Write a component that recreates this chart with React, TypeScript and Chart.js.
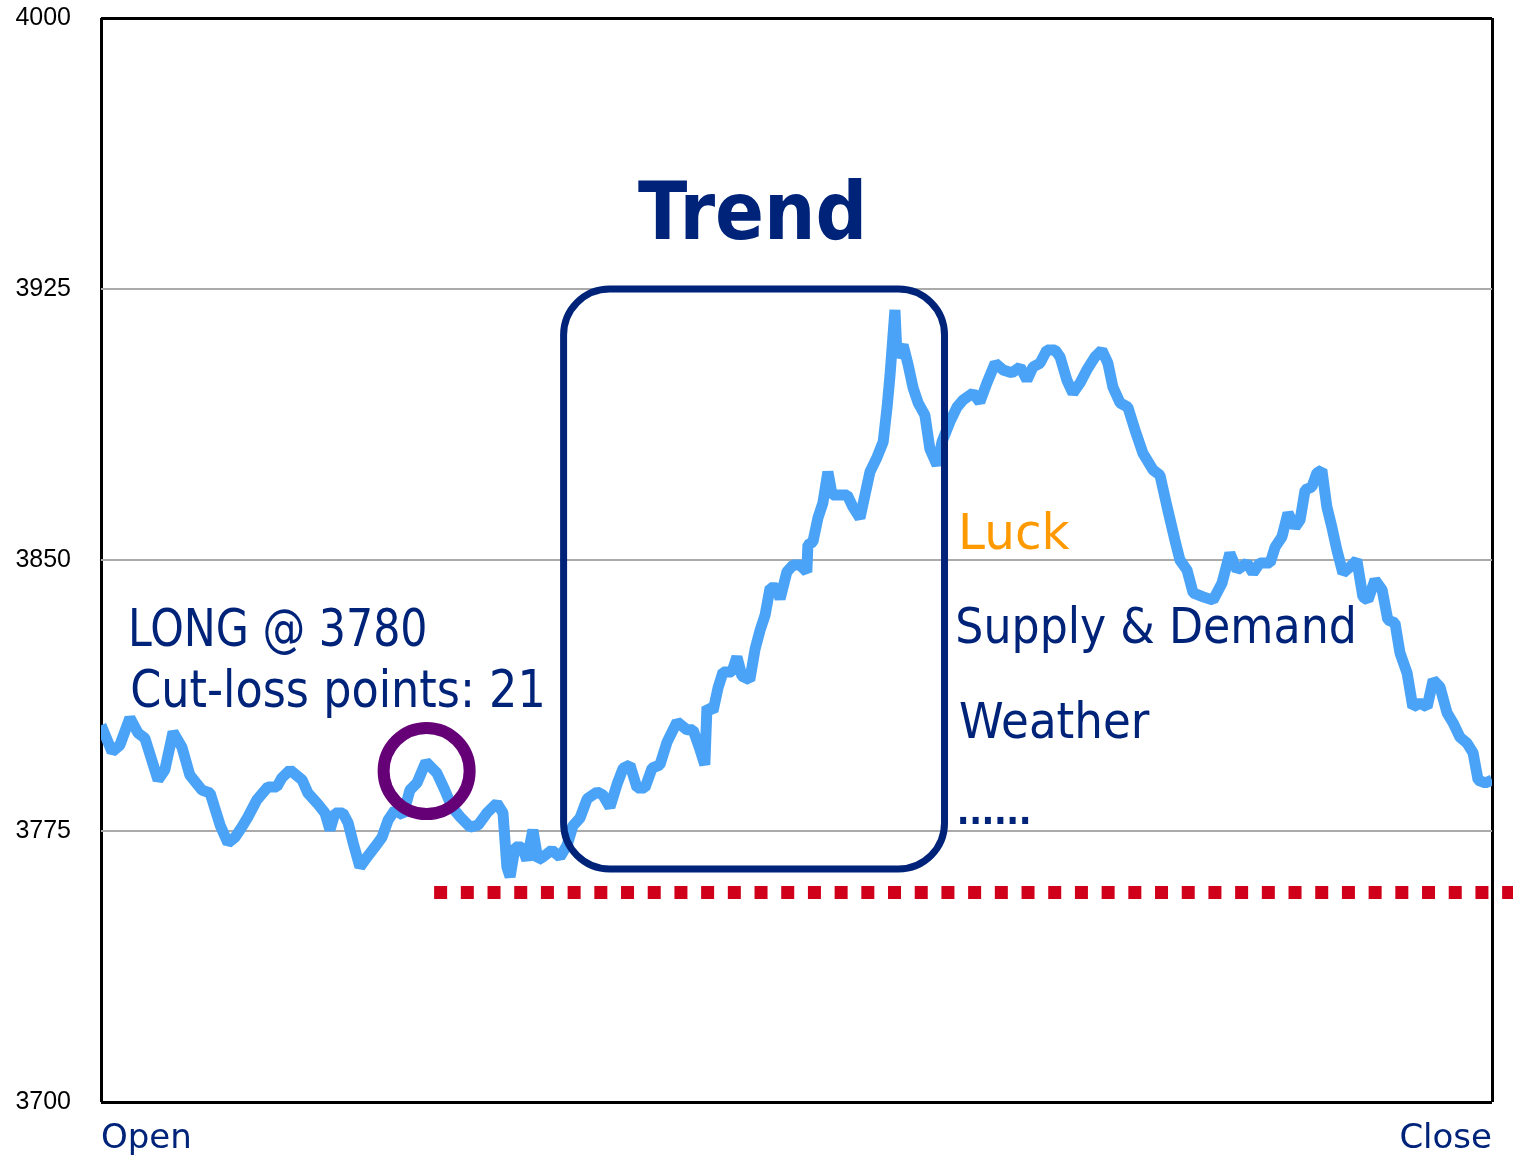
import React, { useEffect, useRef } from 'react';
import { Chart, registerables } from 'chart.js';

Chart.register(...registerables);

// ---- data (minutes after the open, index price) ----
const minutes = [
  0, 3.1, 5.3, 8.1, 10.4, 12.3, 16.0, 17.9, 20.2, 22.7, 24.9, 28.3, 30.6, 33.4, 35.6, 37.6, 39.5, 41.2, 43.7, 46.8,
  49.3, 50.7, 53.0, 56.4, 58.0, 60.6, 62.8, 64.2, 65.6, 67.8, 69.3, 70.7, 72.6, 74.6, 76.8, 78.8, 80.5, 82.4, 84.7, 86.6,
  88.6, 91.1, 94.2, 96.4, 98.4, 100.7, 103.5, 105.7, 108.2, 111.0, 112.7, 113.8, 114.7, 116.1, 118.0, 119.4, 121.1, 122.5, 123.9, 126.4,
  128.7, 130.7, 132.3, 134.3, 136.3, 139.1, 140.7, 142.7, 144.7, 146.4, 148.3, 150.3, 152.5, 154.5, 156.7, 158.7, 161.5, 164.3, 166.0, 167.9,
  169.3, 169.9, 171.6, 173.0, 174.4, 176.9, 178.3, 179.7, 181.9, 183.4, 184.8, 186.2, 187.6, 189.5, 190.4, 192.3, 194.0, 196.0, 197.9, 198.2,
  199.6, 201.0, 202.4, 203.8, 205.0, 207.2, 209.2, 210.8, 212.8, 214.2, 215.6, 217.6, 219.3, 220.4, 221.2, 222.6, 223.2, 224.9, 226.3, 227.7,
  229.1, 231.0, 232.4, 234.4, 235.8, 238.0, 240.0, 241.7, 244.5, 246.4, 248.4, 250.7, 252.9, 255.4, 257.7, 259.6, 261.3, 263.3, 265.2, 267.5,
  268.9, 270.8, 272.5, 274.5, 276.4, 278.7, 280.6, 282.3, 283.7, 285.7, 287.9, 289.9, 292.1, 295.0, 296.9, 298.9, 301.1, 302.5, 304.5, 306.2,
  309.0, 311.8, 314.3, 316.5, 318.5, 321.3, 323.0, 324.9, 327.8, 329.2, 331.1, 332.8, 334.8, 336.2, 337.6, 339.5, 340.9, 342.3, 343.7, 345.1,
  346.5, 348.2, 350.2, 352.1, 353.8, 355.2, 357.2, 359.2, 360.8, 362.8, 364.2, 366.2, 367.8, 369.8, 371.8, 373.5, 375.4, 377.4, 379.1, 381.0,
  383.0, 384.7, 386.1, 388.1, 390.0,
];

const prices = [
  3804.3, 3796.9, 3798.8, 3806.3, 3802.1, 3800.7, 3789.1, 3791.9, 3802.4, 3798.2, 3790.5, 3786.3, 3785.5, 3776.6, 3771.7, 3773.3, 3776.1, 3778.9, 3783.6, 3787.2,
  3787.2, 3789.7, 3791.9, 3789.1, 3785.5, 3782.7, 3780.0, 3775.3, 3780.0, 3780.0, 3777.2, 3771.7, 3765.0, 3767.8, 3770.6, 3773.3, 3778.0, 3780.8, 3779.4, 3786.3,
  3788.3, 3794.1, 3791.0, 3786.3, 3781.6, 3778.9, 3776.1, 3776.6, 3780.0, 3782.7, 3780.0, 3765.0, 3762.3, 3770.6, 3770.6, 3767.0, 3775.3, 3767.0, 3767.8, 3769.7,
  3767.8, 3771.1, 3776.4, 3778.6, 3783.9, 3785.8, 3785.0, 3781.6, 3788.0, 3792.4, 3793.3, 3786.9, 3786.9, 3792.4, 3793.3, 3799.6, 3805.2, 3803.0, 3803.0, 3797.7,
  3793.3, 3809.3, 3808.2, 3814.6, 3819.0, 3819.0, 3823.2, 3817.9, 3816.8, 3825.4, 3830.6, 3834.8, 3842.3, 3842.3, 3839.2, 3846.7, 3848.6, 3848.6, 3846.7, 3854.2,
  3855.0, 3861.6, 3865.8, 3874.4, 3868.0, 3868.0, 3868.0, 3864.7, 3861.6, 3868.0, 3874.4, 3878.5, 3882.7, 3892.3, 3900.9, 3919.2, 3906.2, 3909.5, 3904.0, 3897.6,
  3893.5, 3890.1, 3880.7, 3876.3, 3882.7, 3888.2, 3892.3, 3894.3, 3896.2, 3893.7, 3899.0, 3904.5, 3902.6, 3901.8, 3903.4, 3899.8, 3903.4, 3904.5, 3908.1, 3908.1,
  3906.2, 3899.8, 3896.2, 3899.0, 3902.6, 3906.2, 3908.1, 3904.5, 3897.9, 3893.5, 3892.3, 3886.0, 3879.6, 3874.9, 3873.5, 3864.7, 3855.5, 3850.0, 3847.2, 3840.9,
  3839.8, 3838.9, 3843.6, 3851.9, 3847.2, 3849.2, 3846.4, 3849.2, 3849.2, 3853.6, 3856.4, 3863.0, 3859.1, 3861.1, 3869.4, 3870.2, 3874.1, 3874.9, 3864.7, 3859.1,
  3852.8, 3846.4, 3848.1, 3850.0, 3839.8, 3838.9, 3844.5, 3841.7, 3833.4, 3832.6, 3824.3, 3818.7, 3809.3, 3810.4, 3809.3, 3816.8, 3814.9, 3807.7, 3804.9, 3801.0,
  3799.3, 3796.6, 3789.1, 3788.3, 3789.1,
];

const yTickValues = [3700, 3775, 3850, 3925, 4000];
const xTickLabels = ['Open', 'Close'];
const sessionMinutes = [0, 390];

// annotation values
const trendTitle = 'Trend';
const trendWindow = [129.7, 236.5]; // minutes
const trendRange = [3764.5, 3925]; // price
const entryMarker = [91.3, 3791.6]; // minute, price
const stopLevel = 3758;
const stopFromMinute = 93.4;
const positionNotes = ['LONG @ 3780', 'Cut-loss points: 21'];
const factorNotes = ['Luck', 'Supply & Demand', 'Weather', '......'];

// ---- styles ----
const NAVY = '#00237a';
const ORANGE = '#ff9900';
const PURPLE = '#660077';
const RED = '#d0001a';
const BLUE = '#4aa3f7';
const FONT = '"DejaVu Sans", Verdana, sans-serif';

// text layout (left, right, baseline, cap height in pixels)
const textLayout = [
  { text: trendTitle, l: 638, r: 862, b: 239, cap: 58, weight: 'bold', color: NAVY },
  { text: positionNotes[0], l: 132, r: 425, b: 646, cap: 38, weight: 'normal', color: NAVY },
  { text: positionNotes[1], l: 132, r: 542, b: 707, cap: 37, weight: 'normal', color: NAVY },
  { text: factorNotes[0], l: 962, r: 1070, b: 549, cap: 36, weight: 'normal', color: ORANGE },
  { text: factorNotes[1], l: 958, r: 1353, b: 643, cap: 36, weight: 'normal', color: NAVY },
  { text: factorNotes[2], l: 960, r: 1150, b: 738, cap: 36, weight: 'normal', color: NAVY },
  { text: factorNotes[3], l: 960, r: 1029, b: 824, dot: 7.5, weight: 'normal', color: NAVY },
];

function drawFitted(ctx: CanvasRenderingContext2D, t: any) {
  ctx.textAlign = 'left';
  ctx.textBaseline = 'alphabetic';
  ctx.font = `${t.weight} 100px ${FONT}`;
  let size: number;
  if (t.dot) {
    const md = ctx.measureText('.');
    const dh = (md.actualBoundingBoxAscent + md.actualBoundingBoxDescent) || 13;
    size = (100 * t.dot) / dh;
  } else {
    const capRef = ctx.measureText('H').actualBoundingBoxAscent || 72.9;
    size = (100 * t.cap) / capRef;
  }
  ctx.font = `${t.weight} ${size}px ${FONT}`;
  const m = ctx.measureText(t.text);
  const inkL = -m.actualBoundingBoxLeft;
  const inkR = m.actualBoundingBoxRight;
  const w0 = Math.max(1, inkR - inkL);
  ctx.save();
  ctx.fillStyle = t.color;
  const anyCtx = ctx as any;
  if (t.dot && 'letterSpacing' in anyCtx && t.text.length > 1) {
    const ls = (t.r - t.l - w0) / (t.text.length - 1);
    anyCtx.letterSpacing = `${ls}px`;
    ctx.fillText(t.text, t.l - inkL, t.b);
    anyCtx.letterSpacing = '0px';
  } else {
    const sx = (t.r - t.l) / w0;
    ctx.translate(t.l, t.b);
    ctx.scale(sx, 1);
    ctx.fillText(t.text, -inkL, 0);
  }
  ctx.restore();
}

function roundRectPath(ctx: CanvasRenderingContext2D, x: number, y: number, w: number, h: number, r: number) {
  ctx.beginPath();
  ctx.moveTo(x + r, y);
  ctx.lineTo(x + w - r, y);
  ctx.arcTo(x + w, y, x + w, y + r, r);
  ctx.lineTo(x + w, y + h - r);
  ctx.arcTo(x + w, y + h, x + w - r, y + h, r);
  ctx.lineTo(x + r, y + h);
  ctx.arcTo(x, y + h, x, y + h - r, r);
  ctx.lineTo(x, y + r);
  ctx.arcTo(x, y, x + r, y, r);
  ctx.closePath();
}

const annotationPlugin = {
  id: 'tradeAnnotations',
  afterDatasetsDraw(chart: any) {
    const { ctx, scales } = chart;
    const x = scales.x;
    const y = scales.y;
    ctx.save();

    // stop-loss dotted line
    const sy = y.getPixelForValue(stopLevel);
    ctx.beginPath();
    ctx.setLineDash([13, 13.7]);
    ctx.lineCap = 'butt';
    ctx.lineWidth = 13;
    ctx.strokeStyle = RED;
    ctx.moveTo(x.getPixelForValue(stopFromMinute), sy);
    ctx.lineTo(chart.width, sy);
    ctx.stroke();
    ctx.setLineDash([]);

    // trend box
    const bx0 = x.getPixelForValue(trendWindow[0]);
    const bx1 = x.getPixelForValue(trendWindow[1]);
    const by0 = y.getPixelForValue(trendRange[1]);
    const by1 = y.getPixelForValue(trendRange[0]);
    roundRectPath(ctx, bx0, by0, bx1 - bx0, by1 - by0, 46);
    ctx.lineWidth = 7;
    ctx.strokeStyle = NAVY;
    ctx.stroke();

    // entry marker circle
    ctx.beginPath();
    ctx.arc(x.getPixelForValue(entryMarker[0]), y.getPixelForValue(entryMarker[1]), 43, 0, Math.PI * 2);
    ctx.lineWidth = 12;
    ctx.strokeStyle = PURPLE;
    ctx.stroke();

    // texts
    textLayout.forEach((t) => drawFitted(ctx, t));
    ctx.restore();
  },
};

export default function App() {
  const canvasRef = useRef<HTMLCanvasElement>(null);

  useEffect(() => {
    document.body.style.margin = '0';
    const canvas = canvasRef.current;
    if (!canvas) return;
    const points = minutes.map((m, i) => ({ x: m, y: prices[i] }));
    const chart = new Chart(canvas, {
      type: 'line',
      data: {
        datasets: [
          {
            data: points,
            borderColor: BLUE,
            borderWidth: 11,
            borderJoinStyle: 'bevel',
            pointRadius: 0,
            tension: 0,
            fill: false,
          },
        ],
      },
      options: {
        animation: false,
        responsive: false,
        devicePixelRatio: 1,
        events: [],
        layout: { padding: { top: 18, right: 21, bottom: 0, left: 0 } },
        plugins: { legend: { display: false }, tooltip: { enabled: false } },
        scales: {
          x: {
            type: 'linear',
            min: sessionMinutes[0],
            max: sessionMinutes[1],
            afterBuildTicks: (scale: any) => {
              scale.ticks = sessionMinutes.map((v) => ({ value: v }));
            },
            afterFit: (scale: any) => {
              scale.height = 57;
              scale.paddingLeft = 0;
              scale.paddingRight = 0;
            },
            border: { display: false },
            grid: { color: '#000', lineWidth: 3, drawTicks: false },
            ticks: {
              autoSkip: false,
              maxRotation: 0,
              align: 'inner',
              padding: 17,
              color: NAVY,
              font: { family: FONT, size: 34 },
              callback: (v: any) => (v === sessionMinutes[0] ? xTickLabels[0] : xTickLabels[1]),
            },
          },
          y: {
            type: 'linear',
            min: yTickValues[0],
            max: yTickValues[yTickValues.length - 1],
            afterBuildTicks: (scale: any) => {
              scale.ticks = yTickValues.map((v) => ({ value: v }));
            },
            afterFit: (scale: any) => {
              scale.width = 101;
              scale.paddingTop = 0;
              scale.paddingBottom = 0;
            },
            border: { display: false },
            grid: {
              drawTicks: false,
              color: (c: any) => (c.tick && (c.tick.value === 3700 || c.tick.value === 4000) ? '#000' : '#aaaaaa'),
              lineWidth: (c: any) => (c.tick && (c.tick.value === 3700 || c.tick.value === 4000) ? 3 : 2),
            },
            ticks: {
              padding: 30,
              color: '#000',
              font: { family: '"Liberation Sans", Arial, sans-serif', size: 25 },
              callback: (v: any) => String(v),
            },
          },
        },
      },
      plugins: [annotationPlugin],
    } as any);
    return () => chart.destroy();
  }, []);

  return <canvas ref={canvasRef} width={1513} height={1159} style={{ display: 'block' }} />;
}
